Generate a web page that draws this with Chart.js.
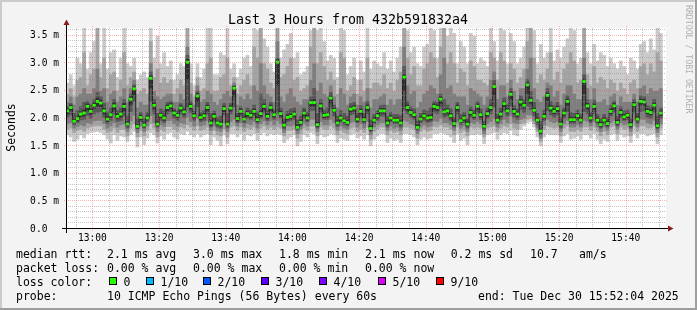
<!DOCTYPE html>
<html><head><meta charset="utf-8">
<script src="https://cdn.jsdelivr.net/npm/chart.js@4.4.1/dist/chart.umd.min.js"></script>
<style>html,body{margin:0;padding:0;background:#f3f3f3;overflow:hidden}canvas{display:block}</style>
</head><body>
<canvas id="c" width="697" height="310"></canvas>
<script>
// ---- data (ms), one value per 60 s step starting 12:52 ----
const START_MIN = 12 * 60 + 52;
const median = [
2.14,2.20,1.95,2.00,2.08,2.10,2.22,2.13,2.24,2.31,
2.28,2.14,1.99,2.07,2.23,2.04,2.08,2.22,1.90,2.35,
2.54,1.86,2.02,1.88,2.01,2.73,2.24,1.90,2.06,2.01,
2.20,2.23,2.10,2.06,2.19,2.12,3.02,2.22,2.05,2.41,
2.02,2.05,2.20,1.92,2.04,1.92,1.90,2.18,1.90,2.19,
2.55,2.00,2.13,1.99,2.09,2.06,2.13,1.98,2.09,2.22,
2.04,2.20,2.07,3.02,2.09,1.88,2.02,2.04,2.08,1.84,
1.93,2.10,2.01,2.29,2.29,1.89,2.23,2.06,2.07,2.37,
2.15,1.92,2.01,1.96,1.93,2.17,2.19,1.99,2.13,1.98,
2.20,1.82,1.97,2.05,2.14,2.14,1.92,2.01,1.97,1.97,
1.92,2.75,2.20,2.11,2.07,1.84,1.99,2.05,2.01,2.02,
2.22,2.20,2.35,2.12,2.14,2.05,1.91,2.20,1.96,2.01,
1.90,2.11,2.06,2.22,2.07,1.86,2.09,2.20,2.58,1.97,
2.08,2.27,2.14,2.44,2.13,2.08,2.30,2.24,2.61,2.33,
2.15,1.97,1.77,2.04,2.42,2.19,2.13,2.18,1.90,2.10,
2.31,1.98,1.98,2.05,1.97,2.67,2.23,2.01,2.22,1.97,
1.89,1.97,1.91,2.13,2.23,1.93,2.11,2.03,2.06,1.89,
2.25,1.99,2.31,2.30,2.13,2.11,2.24,1.87,2.10];
// smoke: outer (lightest) band = top1/bot1 ... inner (darkest) = top5/bot5
const top1 = [
2.65,2.80,2.60,3.10,3.00,3.65,2.90,3.20,3.40,3.65,
3.00,3.65,2.90,3.20,3.25,2.75,3.10,3.65,3.00,2.95,
3.10,2.70,2.80,2.85,2.75,3.65,3.10,3.50,3.00,3.20,
2.95,3.05,2.70,2.80,3.00,2.95,3.65,3.00,2.60,3.00,
2.75,2.90,3.65,3.65,2.80,2.80,3.20,3.15,3.65,2.90,
3.00,2.75,2.90,3.10,3.15,2.95,3.65,3.60,3.65,3.45,
3.30,3.00,2.85,3.65,3.10,3.25,3.35,3.55,3.10,3.20,
2.80,2.85,2.95,3.60,3.65,3.60,3.65,3.40,3.05,3.15,
3.10,2.75,3.65,3.60,2.80,2.95,3.10,2.70,3.05,2.85,
3.65,2.90,3.05,3.00,2.95,3.20,2.90,3.05,2.85,3.10,
3.30,3.65,3.60,3.20,3.30,3.00,2.95,3.30,3.35,3.65,
3.60,3.10,3.65,3.65,3.50,3.65,3.55,3.00,3.40,3.30,
3.00,3.55,3.50,3.00,3.10,3.05,2.95,3.65,3.40,3.05,
3.65,3.60,3.00,3.55,3.40,3.00,3.10,3.30,3.65,3.65,
3.60,3.00,3.35,3.10,3.20,3.65,3.05,3.25,3.10,3.30,
3.45,3.65,3.60,3.00,3.10,3.65,3.20,3.00,3.35,3.05,
3.20,3.15,2.95,3.10,3.00,2.90,3.05,2.95,2.80,3.10,
3.05,2.90,3.35,3.40,3.20,3.45,3.25,3.65,3.55];
const top2 = [
2.45,2.55,2.40,2.70,2.75,3.20,2.60,2.80,2.90,3.65,
2.75,3.10,2.55,2.80,2.85,2.50,2.70,3.20,2.60,2.75,
2.85,2.45,2.50,2.55,2.45,3.40,2.75,2.90,2.65,2.75,
2.65,2.70,2.45,2.55,2.70,2.60,3.65,2.65,2.40,2.75,
2.50,2.55,3.00,3.10,2.50,2.50,2.75,2.80,3.10,2.60,
2.75,2.45,2.60,2.70,2.80,2.60,3.30,3.10,3.65,3.00,
2.90,2.65,2.55,3.65,2.75,2.80,2.95,3.10,2.70,2.75,
2.50,2.55,2.60,3.30,3.65,3.00,3.20,2.95,2.70,2.85,
2.70,2.45,3.20,3.10,2.50,2.60,2.75,2.45,2.70,2.50,
3.10,2.55,2.65,2.65,2.60,2.80,2.55,2.65,2.50,2.70,
2.85,3.65,3.10,2.80,2.95,2.60,2.60,2.90,3.00,3.20,
3.10,2.75,3.30,3.65,3.00,3.20,3.00,2.65,2.90,2.85,
2.60,3.05,2.95,2.70,2.70,2.65,2.60,3.20,3.10,2.70,
3.20,3.05,2.65,3.00,2.90,2.65,2.75,2.90,3.40,3.65,
3.10,2.65,2.80,2.70,2.90,3.20,2.70,2.85,2.65,2.90,
3.00,3.20,3.05,2.65,2.70,3.65,2.80,2.60,2.95,2.65,
2.75,2.70,2.55,2.70,2.65,2.50,2.65,2.55,2.45,2.65,
2.70,2.55,2.95,3.00,2.80,3.00,2.85,3.20,3.05];
const top3 = [
2.30,2.40,2.25,2.40,2.45,2.55,2.45,2.45,2.55,2.90,
2.50,2.55,2.30,2.45,2.50,2.30,2.40,2.55,2.30,2.55,
2.70,2.20,2.30,2.25,2.25,3.00,2.50,2.40,2.35,2.40,
2.45,2.45,2.30,2.30,2.45,2.35,3.30,2.45,2.25,2.60,
2.30,2.35,2.50,2.45,2.30,2.25,2.35,2.45,2.50,2.40,
2.65,2.25,2.40,2.35,2.45,2.35,2.60,2.50,3.00,2.60,
2.45,2.40,2.30,3.40,2.40,2.30,2.45,2.55,2.40,2.30,
2.25,2.35,2.35,2.70,3.00,2.50,2.65,2.45,2.40,2.60,
2.40,2.20,2.55,2.45,2.25,2.40,2.45,2.25,2.40,2.30,
2.55,2.20,2.35,2.35,2.40,2.45,2.25,2.35,2.25,2.35,
2.35,3.30,2.60,2.45,2.50,2.20,2.30,2.45,2.50,2.60,
2.55,2.45,2.80,3.10,2.55,2.60,2.45,2.40,2.40,2.40,
2.25,2.55,2.50,2.45,2.40,2.25,2.40,2.70,2.85,2.35,
2.60,2.60,2.40,2.70,2.50,2.35,2.55,2.55,2.90,3.10,
2.55,2.35,2.30,2.40,2.65,2.60,2.40,2.50,2.25,2.45,
2.60,2.60,2.45,2.35,2.35,3.10,2.55,2.35,2.55,2.30,
2.30,2.35,2.25,2.40,2.45,2.25,2.40,2.30,2.30,2.30,
2.45,2.30,2.55,2.60,2.45,2.55,2.50,2.50,2.55];
const top4 = [
2.22,2.28,2.10,2.15,2.22,2.30,2.32,2.26,2.35,2.48,
2.40,2.28,2.12,2.20,2.35,2.15,2.20,2.35,2.05,2.45,
2.62,2.00,2.12,2.00,2.12,2.85,2.35,2.10,2.18,2.15,
2.30,2.32,2.18,2.15,2.28,2.22,3.15,2.32,2.14,2.50,
2.12,2.15,2.30,2.10,2.14,2.02,2.05,2.28,2.10,2.28,
2.60,2.10,2.22,2.10,2.20,2.16,2.25,2.12,2.45,2.35,
2.16,2.30,2.16,3.10,2.20,2.00,2.14,2.18,2.20,1.98,
2.05,2.20,2.12,2.40,2.55,2.10,2.35,2.16,2.20,2.48,
2.25,2.05,2.15,2.10,2.05,2.28,2.30,2.10,2.24,2.10,
2.32,1.98,2.08,2.15,2.24,2.25,2.04,2.12,2.08,2.08,
2.06,2.95,2.32,2.22,2.18,1.96,2.10,2.16,2.14,2.20,
2.32,2.30,2.45,2.35,2.25,2.18,2.02,2.30,2.08,2.12,
2.00,2.22,2.16,2.32,2.18,1.96,2.20,2.35,2.70,2.08,
2.20,2.38,2.25,2.55,2.24,2.18,2.42,2.35,2.72,2.50,
2.30,2.10,1.95,2.16,2.55,2.32,2.24,2.30,2.02,2.20,
2.42,2.12,2.10,2.16,2.08,2.80,2.34,2.12,2.34,2.08,
2.00,2.08,2.02,2.24,2.32,2.04,2.22,2.14,2.16,2.00,
2.35,2.10,2.42,2.40,2.24,2.22,2.35,2.05,2.20];
const top5 = [
2.18,2.25,2.00,2.05,2.13,2.16,2.27,2.18,2.29,2.38,
2.34,2.19,2.04,2.12,2.29,2.09,2.13,2.28,1.95,2.40,
2.58,1.91,2.07,1.93,2.06,2.78,2.29,1.95,2.11,2.06,
2.25,2.28,2.15,2.11,2.24,2.17,3.08,2.27,2.10,2.46,
2.07,2.10,2.25,1.97,2.09,1.96,1.95,2.23,1.95,2.24,
2.59,2.05,2.18,2.04,2.14,2.11,2.18,2.03,2.15,2.27,
2.09,2.25,2.12,3.07,2.14,1.93,2.07,2.09,2.13,1.89,
1.98,2.15,2.06,2.34,2.35,1.94,2.28,2.11,2.12,2.42,
2.20,1.97,2.06,2.01,1.98,2.22,2.24,2.04,2.18,2.03,
2.25,1.87,2.02,2.10,2.19,2.19,1.97,2.06,2.02,2.02,
1.97,2.80,2.25,2.16,2.12,1.89,2.04,2.10,2.06,2.07,
2.27,2.25,2.40,2.17,2.19,2.10,1.96,2.25,2.01,2.06,
1.95,2.16,2.11,2.27,2.12,1.91,2.14,2.25,2.63,2.02,
2.13,2.32,2.19,2.49,2.18,2.13,2.35,2.29,2.66,2.38,
2.20,2.02,1.82,2.09,2.47,2.24,2.18,2.23,1.95,2.15,
2.36,2.03,2.03,2.10,2.02,2.72,2.28,2.06,2.27,2.02,
1.94,2.02,1.96,2.18,2.28,1.98,2.16,2.08,2.11,1.94,
2.30,2.04,2.36,2.35,2.18,2.16,2.29,1.92,2.15];
const bot5 = [
2.08,2.14,1.91,1.95,2.03,2.04,2.15,2.07,2.18,2.22,
2.21,2.08,1.94,2.02,2.16,1.99,2.02,2.14,1.86,2.25,
2.42,1.82,1.97,1.84,1.97,2.55,2.17,1.86,2.01,1.96,
2.14,2.17,2.05,2.01,2.13,2.07,2.70,2.16,2.00,2.30,
1.97,2.00,2.14,1.87,1.99,1.88,1.86,2.12,1.86,2.13,
2.40,1.95,2.08,1.95,2.04,2.01,2.08,1.94,2.03,2.16,
1.99,2.14,2.02,2.60,2.04,1.84,1.97,1.99,2.03,1.80,
1.89,2.05,1.96,2.22,2.22,1.85,2.17,2.01,2.02,2.28,
2.10,1.88,1.96,1.92,1.89,2.11,2.13,1.94,2.08,1.94,
2.14,1.78,1.93,2.00,2.09,2.09,1.88,1.96,1.93,1.93,
1.88,2.50,2.14,2.06,2.02,1.80,1.95,2.00,1.96,1.97,
2.16,2.14,2.27,2.07,2.09,2.00,1.87,2.14,1.92,1.96,
1.86,2.06,2.01,2.16,2.02,1.82,2.04,2.14,2.42,1.93,
2.03,2.21,2.09,2.35,2.08,2.03,2.24,2.18,2.45,2.27,
2.10,1.93,1.73,1.99,2.32,2.13,2.08,2.12,1.86,2.05,
2.24,1.94,1.94,2.00,1.93,2.45,2.17,1.96,2.16,1.93,
1.85,1.93,1.87,2.08,2.17,1.89,2.06,1.98,2.01,1.85,
2.19,1.95,2.25,2.24,2.08,2.06,2.18,1.83,2.05];
const bot4 = [
2.02,2.06,1.88,1.92,1.97,1.98,2.05,2.00,2.08,2.10,
2.12,2.02,1.90,1.96,2.08,1.94,1.96,2.04,1.82,2.12,
2.30,1.80,1.94,1.82,1.94,2.30,2.08,1.84,1.96,1.92,
2.08,2.12,2.00,1.96,2.08,2.02,2.20,2.10,1.96,2.20,
1.94,1.96,2.08,1.84,1.95,1.84,1.82,2.06,1.82,2.08,
2.20,1.92,2.04,1.92,2.00,1.98,2.04,1.90,2.00,2.10,
1.96,2.10,1.98,2.10,2.00,1.80,1.94,1.96,1.98,1.78,
1.86,2.00,1.94,2.14,2.14,1.82,2.10,1.98,1.98,2.18,
2.04,1.85,1.94,1.88,1.86,2.06,2.08,1.92,2.02,1.90,
2.08,1.76,1.90,1.96,2.04,2.04,1.84,1.94,1.90,1.90,
1.84,2.15,2.08,2.02,1.98,1.78,1.92,1.96,1.92,1.94,
2.10,2.08,2.18,2.02,2.04,1.96,1.84,2.08,1.88,1.92,
1.82,2.02,1.98,2.10,1.98,1.78,2.00,2.08,2.20,1.90,
1.98,2.14,2.04,2.22,2.02,1.98,2.16,2.10,2.22,2.16,
2.04,1.88,1.70,1.96,2.14,2.06,2.02,2.06,1.82,2.00,
2.12,1.90,1.90,1.96,1.90,2.12,2.08,1.92,2.08,1.90,
1.82,1.90,1.84,2.04,2.10,1.86,2.02,1.96,1.98,1.82,
2.10,1.90,2.12,2.14,2.02,2.00,2.10,1.80,2.00];
const bot3 = [
1.90,1.92,1.82,1.85,1.88,1.86,1.92,1.90,1.95,1.96,
1.96,1.90,1.82,1.86,1.92,1.84,1.88,1.90,1.76,1.95,
2.05,1.74,1.86,1.76,1.86,2.05,1.92,1.76,1.88,1.85,
1.95,1.96,1.90,1.86,1.92,1.90,2.02,1.94,1.86,2.00,
1.86,1.88,1.95,1.78,1.86,1.78,1.76,1.92,1.76,1.94,
1.98,1.86,1.92,1.84,1.90,1.88,1.94,1.82,1.90,1.95,
1.88,1.95,1.88,1.95,1.90,1.74,1.86,1.86,1.88,1.72,
1.80,1.90,1.86,1.98,1.98,1.76,1.94,1.88,1.88,1.98,
1.92,1.78,1.86,1.82,1.80,1.92,1.94,1.84,1.90,1.82,
1.94,1.70,1.84,1.88,1.92,1.92,1.78,1.86,1.82,1.84,
1.78,1.96,1.94,1.90,1.88,1.72,1.84,1.88,1.84,1.86,
1.95,1.94,2.00,1.92,1.92,1.88,1.78,1.94,1.82,1.86,
1.76,1.92,1.90,1.94,1.90,1.72,1.90,1.94,2.00,1.84,
1.90,1.98,1.92,2.04,1.92,1.90,1.98,2.00,2.06,2.06,
1.96,1.82,1.64,1.88,1.98,1.94,1.92,1.94,1.76,1.90,
1.96,1.84,1.84,1.88,1.84,1.96,1.94,1.86,1.94,1.84,
1.76,1.84,1.78,1.92,1.96,1.80,1.92,1.88,1.90,1.76,
1.96,1.84,1.98,1.98,1.92,1.90,1.96,1.74,1.90];
const bot2 = [
1.80,1.82,1.74,1.78,1.80,1.76,1.82,1.84,1.86,1.86,
1.86,1.80,1.74,1.76,1.82,1.74,1.80,1.80,1.68,1.82,
1.90,1.66,1.78,1.68,1.78,1.90,1.82,1.66,1.80,1.76,
1.85,1.85,1.80,1.76,1.84,1.82,1.88,1.84,1.78,1.86,
1.78,1.80,1.84,1.70,1.78,1.70,1.68,1.80,1.66,1.84,
1.86,1.78,1.84,1.76,1.82,1.80,1.84,1.74,1.82,1.86,
1.80,1.84,1.80,1.84,1.82,1.68,1.78,1.78,1.80,1.64,
1.72,1.82,1.78,1.86,1.86,1.68,1.84,1.80,1.80,1.86,
1.82,1.70,1.78,1.74,1.72,1.82,1.84,1.76,1.80,1.74,
1.84,1.62,1.76,1.80,1.84,1.84,1.70,1.78,1.74,1.76,
1.70,1.84,1.84,1.82,1.80,1.64,1.76,1.80,1.76,1.78,
1.85,1.84,1.88,1.84,1.84,1.80,1.70,1.84,1.74,1.78,
1.68,1.84,1.82,1.84,1.82,1.66,1.82,1.84,1.86,1.76,
1.82,1.86,1.84,1.90,1.82,1.80,1.90,1.92,1.98,2.00,
1.90,1.76,1.58,1.80,1.86,1.84,1.82,1.84,1.68,1.82,
1.86,1.76,1.76,1.80,1.76,1.84,1.84,1.78,1.84,1.76,
1.68,1.76,1.70,1.84,1.86,1.72,1.84,1.80,1.82,1.68,
1.86,1.76,1.86,1.86,1.82,1.82,1.86,1.66,1.82];
const bot1 = [
1.70,1.66,1.58,1.62,1.70,1.64,1.72,1.74,1.75,1.76,
1.74,1.70,1.62,1.55,1.70,1.60,1.68,1.66,1.58,1.70,
1.76,1.48,1.66,1.52,1.64,1.74,1.70,1.55,1.68,1.62,
1.72,1.74,1.66,1.62,1.72,1.70,1.76,1.70,1.66,1.72,
1.66,1.70,1.72,1.52,1.66,1.60,1.50,1.70,1.54,1.72,
1.72,1.66,1.72,1.60,1.70,1.68,1.72,1.60,1.70,1.74,
1.68,1.72,1.70,1.72,1.70,1.56,1.62,1.66,1.70,1.50,
1.58,1.70,1.66,1.74,1.72,1.54,1.70,1.66,1.68,1.72,
1.70,1.56,1.64,1.62,1.60,1.70,1.72,1.64,1.68,1.62,
1.70,1.50,1.62,1.68,1.72,1.72,1.56,1.64,1.60,1.62,
1.56,1.72,1.72,1.70,1.66,1.52,1.62,1.66,1.62,1.64,
1.72,1.72,1.74,1.72,1.70,1.66,1.56,1.72,1.60,1.64,
1.52,1.70,1.70,1.72,1.70,1.54,1.70,1.72,1.74,1.62,
1.70,1.74,1.72,1.78,1.70,1.68,1.80,1.86,1.92,1.94,
1.84,1.66,1.50,1.66,1.72,1.70,1.70,1.70,1.56,1.68,
1.72,1.62,1.64,1.68,1.62,1.70,1.70,1.64,1.72,1.62,
1.54,1.62,1.58,1.70,1.72,1.60,1.70,1.66,1.68,1.56,
1.72,1.64,1.72,1.72,1.68,1.70,1.72,1.54,1.70];

// ---- axes / labels ----
const xTickValues = [780, 800, 820, 840, 860, 880, 900, 920, 940];
const xTickLabels = ['13:00','13:20','13:40','14:00','14:20','14:40','15:00','15:20','15:40'];
const yTickValues = [0, 0.5, 1.0, 1.5, 2.0, 2.5, 3.0, 3.5];
const yTickLabels = ['0.0  ','0.5 m','1.0 m','1.5 m','2.0 m','2.5 m','3.0 m','3.5 m'];
const X_MIN = START_MIN + 4 / 60, X_MAX = X_MIN + 180;
const Y_MAX = 3.64;

const titleText = 'Last 3 Hours from 432b591832a4';
const yAxisTitle = 'Seconds';
const watermark = 'RRDTOOL / TOBI OETIKER';
const rttRow = [['median rtt:', 16], ['2.1 ms avg', 107], ['3.0 ms max', 193], ['1.8 ms min', 279], ['2.1 ms now', 365], ['0.2 ms sd', 450.7], ['10.7', 530], ['am/s', 579]];
const lossRow = [['packet loss:', 16], ['0.00 % avg', 107], ['0.00 % max', 193], ['0.00 % min', 279], ['0.00 % now', 365]];
const lossColors = [['0', '#26ff00'], ['1/10', '#00b8ff'], ['2/10', '#0059ff'], ['3/10', '#5e00ff'], ['4/10', '#7e00ff'], ['5/10', '#dd00ff'], ['9/10', '#ff0000']];
const probeRow = [['probe:', 16], ['10 ICMP Echo Pings (56 Bytes) every 60s', 107], ['end: Tue Dec 30 15:52:04 2025', 478]];

// ---- build ----
const xAt = median.map((_, i) => START_MIN + i + 0.5);
const band = (lo, hi) => lo.map((v, i) => ({ x: xAt[i], y: [v, hi[i]] }));
const pts = median.map((v, i) => ({ x: xAt[i], y: v }));
const MONO = '"DejaVu Sans Mono", monospace';

const barCommon = { type: 'bar', borderWidth: 0, barPercentage: 1.12, categoryPercentage: 1, grouped: false, clip: 0 };

const rrdPlugin = {
  id: 'rrd',
  beforeDraw(chart) {
    const { ctx, chartArea: a, width, height } = chart;
    ctx.save();
    ctx.fillStyle = '#f3f3f3'; ctx.fillRect(0, 0, width, height);
    ctx.fillStyle = '#cbcbcb'; ctx.fillRect(0, 0, width, 2); ctx.fillRect(0, 0, 2, height);
    ctx.fillStyle = '#9e9e9e'; ctx.fillRect(0, height - 2, width, 2); ctx.fillRect(width - 2, 0, 2, height);
    ctx.fillStyle = '#ffffff'; ctx.fillRect(a.left, a.top, a.right - a.left, a.bottom - a.top);
    ctx.restore();
  },
  afterDatasetsDraw(chart) {
    const { ctx, chartArea: a } = chart;
    const xs = chart.scales.x, ys = chart.scales.y;
    const line = (x1, y1, x2, y2) => { ctx.beginPath(); ctx.moveTo(x1, y1); ctx.lineTo(x2, y2); ctx.stroke(); };
    const py = v => Math.round(ys.getPixelForValue(v)) - 0.5;
    const px = v => Math.round(xs.getPixelForValue(v)) + 0.5;
    ctx.save();
    ctx.lineWidth = 1;
    ctx.setLineDash([1, 1]);
    // minor grid
    ctx.strokeStyle = 'rgba(140,140,140,0.5)';
    for (let k = 1; k * 0.1 < Y_MAX; k++) {
      if (k % 5 === 0) continue;
      const y = py(k * 0.1); line(a.left, y, a.right, y);
    }
    for (let t = Math.ceil(X_MIN / 5) * 5; t < X_MAX; t += 5) {
      if (t % 20 === 0) continue;
      const x = px(t); line(x, a.top, x, a.bottom);
    }
    // major grid
    ctx.strokeStyle = 'rgba(255,60,60,0.38)';
    yTickValues.forEach(v => { if (v > 0) { const y = py(v); line(a.left - 2, y, a.right + 2, y); } });
    xTickValues.forEach(t => { const x = px(t); line(x, a.top - 2, x, a.bottom + 2); });
    // axes
    ctx.setLineDash([]);
    ctx.strokeStyle = '#000';
    const y0 = py(0), xl = Math.round(a.left) + 0.5;
    line(a.left - 4, y0, a.right + 2, y0);
    line(xl, a.bottom + 4, xl, a.top - 3);
    ctx.fillStyle = '#8b1a1a';
    ctx.beginPath(); ctx.moveTo(a.right + 2, y0 - 3); ctx.lineTo(a.right + 7.5, y0); ctx.lineTo(a.right + 2, y0 + 3); ctx.closePath(); ctx.fill();
    ctx.beginPath(); ctx.moveTo(xl - 3, a.top - 3); ctx.lineTo(xl, a.top - 8.5); ctx.lineTo(xl + 3, a.top - 3); ctx.closePath(); ctx.fill();
    ctx.restore();
  },
  afterDraw(chart) {
    const { ctx } = chart;
    ctx.save();
    ctx.fillStyle = '#000';
    ctx.textBaseline = 'alphabetic';
    ctx.textAlign = 'center';
    ctx.font = '13.3px ' + MONO;
    ctx.fillText(titleText, 348, 24);
    ctx.font = '11.5px ' + MONO;
    ctx.save(); ctx.translate(14.5, 127.5); ctx.rotate(-Math.PI / 2); ctx.fillText(yAxisTitle, 0, 0); ctx.restore();
    ctx.save(); ctx.fillStyle = '#b0b0b0'; ctx.font = '8.2px ' + MONO; ctx.textAlign = 'left';
    ctx.translate(685.5, 5); ctx.rotate(Math.PI / 2); ctx.fillText(watermark, 0, 0); ctx.restore();
    ctx.textAlign = 'left';
    rttRow.forEach(([t, x]) => ctx.fillText(t, x, 257.5));
    lossRow.forEach(([t, x]) => ctx.fillText(t, x, 271.5));
    ctx.fillText('loss color:', 16, 285.5);
    const boxX = [108.5, 145.5, 203, 261, 319, 377.5, 435.5];
    lossColors.forEach(([t, c], i) => {
      const bx = Math.round(boxX[i]);
      ctx.fillStyle = c; ctx.fillRect(bx, 277, 8, 8);
      ctx.strokeStyle = '#000'; ctx.lineWidth = 1; ctx.strokeRect(bx + 0.5, 277.5, 7, 7);
      ctx.fillStyle = '#000'; ctx.fillText(t, bx + 14.5, 285.5);
    });
    probeRow.forEach(([t, x]) => ctx.fillText(t, x, 299.5));
    ctx.restore();
  }
};

new Chart(document.getElementById('c'), {
  type: 'bar',
  data: {
    datasets: [
      { type: 'line', data: pts, showLine: false, pointStyle: 'line', pointRadius: 1.7, pointHoverRadius: 1.7,
        pointBorderWidth: 2.8, pointBorderColor: '#26ff00', pointBackgroundColor: '#26ff00', order: 0, clip: 0 },
      { type: 'line', data: pts, stepped: 'middle', borderColor: '#202020', borderWidth: 1, pointRadius: 0, order: 1, clip: 0 },
      Object.assign({ data: band(bot5, top5), backgroundColor: '#323232', order: 2 }, barCommon),
      Object.assign({ data: band(bot4, top4), backgroundColor: '#585858', order: 3 }, barCommon),
      Object.assign({ data: band(bot3, top3), backgroundColor: '#7e7e7e', order: 4 }, barCommon),
      Object.assign({ data: band(bot2, top2), backgroundColor: '#a4a4a4', order: 5 }, barCommon),
      Object.assign({ data: band(bot1, top1), backgroundColor: '#cacaca', order: 6 }, barCommon)
    ]
  },
  options: {
    responsive: false,
    animation: false,
    events: [],
    layout: { padding: { left: 0, top: 28, right: 31, bottom: 61 } },
    plugins: { legend: { display: false }, tooltip: { enabled: false }, title: { display: false } },
    scales: {
      x: {
        type: 'linear', min: X_MIN, max: X_MAX, offset: false,
        grid: { display: false, drawTicks: false, offset: false }, border: { display: false },
        afterBuildTicks: s => { s.ticks = xTickValues.map(v => ({ value: v })); },
        afterFit: s => { s.height = 20; },
        ticks: { autoSkip: false, maxRotation: 0, padding: 4, color: '#000', font: { family: 'DejaVu Sans Mono', size: 9.6 },
          callback: v => xTickLabels[xTickValues.indexOf(v)] }
      },
      y: {
        type: 'linear', min: 0, max: Y_MAX,
        grid: { display: false, drawTicks: false }, border: { display: false },
        afterBuildTicks: s => { s.ticks = yTickValues.map(v => ({ value: v })); },
        afterFit: s => { s.width = 66; },
        ticks: { autoSkip: false, padding: 7, color: '#000', font: { family: 'DejaVu Sans Mono', size: 9.6 },
          callback: v => yTickLabels[yTickValues.indexOf(v)] }
      }
    }
  },
  plugins: [rrdPlugin]
});
</script>
</body></html>
